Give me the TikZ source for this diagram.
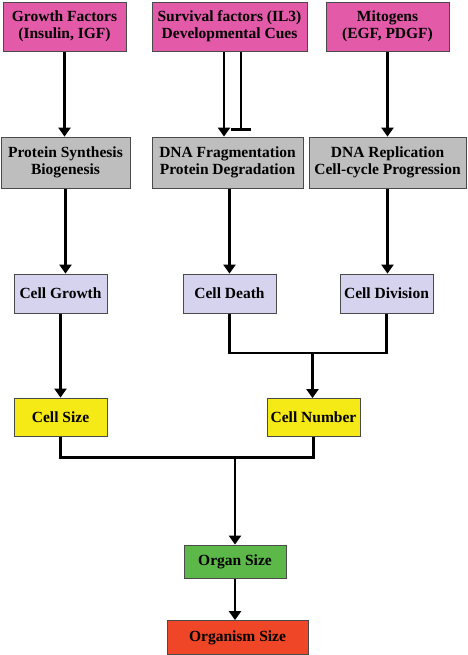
\documentclass[tikz,border=0pt]{standalone}
\usepackage{fontspec}
\setmainfont{Liberation Serif}
\usetikzlibrary{arrows.meta}
\pgfdeclarelayer{edgelayer}
\pgfdeclarelayer{nodelayer}
\pgfsetlayers{edgelayer,nodelayer,main}
\definecolor{signalpink}{HTML}{E35BA8}
\definecolor{stepgrey}{HTML}{BEBEBE}
\definecolor{celllav}{HTML}{D6D3EE}
\definecolor{sizeyellow}{HTML}{F5E916}
\definecolor{organgreen}{HTML}{5DB84A}
\definecolor{bodyred}{HTML}{EE4626}
\definecolor{rim}{HTML}{4A4A4A}
\tikzset{font=\bfseries\fontsize{15.5}{17}\selectfont}
\tikzstyle{box}=[rectangle,draw=rim,line width=0.8pt,inner sep=0pt,align=center]
\tikzstyle{signal}=[box,fill=signalpink,minimum height=49pt]
\tikzstyle{process}=[box,fill=stepgrey,minimum height=51pt]
\tikzstyle{cell}=[box,fill=celllav,minimum width=93pt,minimum height=39pt]
\tikzstyle{size}=[box,fill=sizeyellow,minimum width=93pt,minimum height=38pt]
\tikzstyle{organ}=[box,fill=organgreen,minimum height=33pt]
\tikzstyle{organism}=[box,fill=bodyred,minimum height=34pt]
\tikzstyle{wire}=[line width=2.7pt]
\tikzstyle{arrow}=[wire,-{Triangle[length=9pt,width=12pt]}]
\tikzstyle{inhibit}=[wire,-{Bar[width=20pt]},shorten >=6pt]

\begin{document}
\begin{tikzpicture}[x=10pt,y=10pt]
	\useasboundingbox (0,0) rectangle (46.7,-65.5);
	\begin{pgfonlayer}{nodelayer}
		\node [style=signal, minimum width=123pt] (0) at (6.45, -2.65) {Growth Factors\\(Insulin, IGF)};
		\node [style=signal, minimum width=155pt] (1) at (22.95, -2.65) {Survival factors (IL3)\\Developmental Cues};
		\node [style=signal, minimum width=123pt] (2) at (38.75, -2.65) {Mitogens\\(EGF, PDGF)};
		\node [style=process, minimum width=129pt] (3) at (6.55, -16.25) {Protein Synthesis\\Biogenesis};
		\node [style=process, minimum width=151pt] (4) at (22.75, -16.25) {DNA Fragmentation\\Protein Degradation};
		\node [style=process, minimum width=157pt] (5) at (38.75, -16.25) {DNA Replication\\Cell-cycle Progression};
		\node [style=cell] (6) at (6.05, -29.35) {Cell Growth};
		\node [style=cell] (7) at (22.95, -29.35) {Cell Death};
		\node [style=cell] (8) at (38.65, -29.35) {Cell Division};
		\node [style=size] (9) at (6.05, -41.7) {Cell Size};
		\node [style=size] (10) at (31.35, -41.75) {Cell Number};
		\node [style=organ, minimum width=102pt] (11) at (23.5, -56.15) {Organ Size};
		\node [style=organism, minimum width=141pt] (12) at (23.75, -63.75) {Organism Size};
		\coordinate (13) at (31.25, -35.3);
		\coordinate (14) at (23.5, -45.75);
	\end{pgfonlayer}
	\begin{pgfonlayer}{edgelayer}
		\draw [style=arrow] (0) -- (0 |- 3.north);
		\draw [style=arrow] ([xshift=-5.5pt]1.south) -- ([xshift=-5.5pt]1.south |- 4.north);
		\draw [style=inhibit] ([xshift=11.5pt]1.south) -- ([xshift=11.5pt]1.south |- 4.north);
		\draw [style=arrow] (2) -- (2 |- 5.north);
		\draw [style=arrow] (3) -- (3 |- 6.north);
		\draw [style=arrow] (7 |- 4.south) -- (7);
		\draw [style=arrow] (5) -- (5 |- 8.north);
		\draw [style=wire] (7.south) |- (13) -| (8.south);
		\draw [style=arrow] (13) -- (13 |- 10.north);
		\draw [style=arrow] (6) -- (6 |- 9.north);
		\draw [style=wire] (9.south) |- (14) -| (10.south);
		\draw [style=arrow] (14) -- (11);
		\draw [style=arrow] (11) -- (11 |- 12.north);
	\end{pgfonlayer}
\end{tikzpicture}
\end{document}
